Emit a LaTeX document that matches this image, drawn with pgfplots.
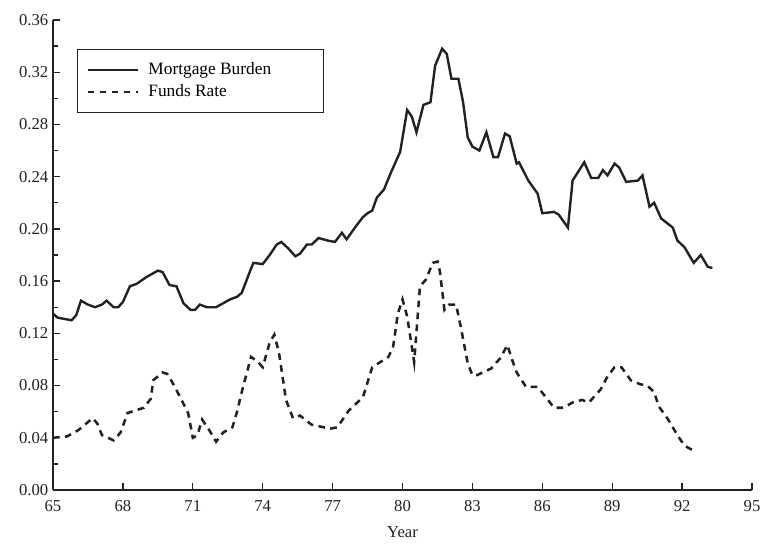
\documentclass[border=0pt]{standalone}
\usepackage{pgfplots}
\pgfplotsset{compat=1.18}
\usepackage{fontspec}
\setmainfont{Liberation Serif}
\definecolor{ink}{HTML}{222222}
\begin{document}
\begin{tikzpicture}
\begin{axis}[
  name=ax,
  scale only axis,
  width=524.25pt, height=352.5pt,
  xmin=65, xmax=95, ymin=0, ymax=0.36,
  axis x line*=bottom, axis y line*=left,
  axis line style={-, line width=1.6pt, color=ink},
  xtick={65,68,...,95},
  ytick={0,0.04,...,0.37},
  minor y tick num=1,
  tick align=inside,
  major tick length=5pt, minor tick length=4pt,
  tick style={line width=1pt, color=ink},
  every tick label/.append style={font=\fontsize{12.5}{14}\selectfont, color=ink},
  /pgf/number format/assume math mode=true,
  y tick label style={/pgf/number format/.cd, fixed, fixed zerofill, precision=2},
  x tick label style={yshift=-4.5pt, /pgf/number format/.cd, fixed, precision=0},
  xlabel={Year},
  xlabel style={font=\fontsize{12.5}{14}\selectfont, color=ink, yshift=-4pt},
  legend style={at={(0.034,0.938)}, anchor=north west, draw=ink, line width=0.7pt,
    font=\fontsize{13}{15}\selectfont, inner xsep=7pt, inner ysep=8pt, row sep=2pt,
    /tikz/every odd column/.append style={column sep=5pt}},
  legend cell align=left,
  legend image code/.code={\draw[#1] (0pt,0pt) -- (37.5pt,0pt);},
]
\addplot[ink, line width=1.8pt] coordinates {
(65.0,0.135)(65.2,0.132)(65.5,0.131)(65.8,0.130)(66.0,0.134)(66.2,0.145)(66.5,0.142)
(66.8,0.140)(67.1,0.142)(67.3,0.145)(67.6,0.140)(67.8,0.140)(68.0,0.144)(68.3,0.156)
(68.6,0.158)(69.0,0.163)(69.3,0.166)(69.5,0.168)(69.7,0.167)(70.0,0.157)(70.3,0.156)
(70.6,0.143)(70.9,0.138)(71.1,0.138)(71.3,0.142)(71.6,0.140)(72.0,0.140)(72.3,0.143)
(72.6,0.146)(72.9,0.148)(73.1,0.151)(73.4,0.165)(73.6,0.174)(74.0,0.173)(74.3,0.180)
(74.6,0.188)(74.8,0.190)(75.1,0.185)(75.4,0.179)(75.6,0.181)(75.9,0.188)(76.1,0.188)
(76.4,0.193)(76.8,0.191)(77.1,0.190)(77.4,0.197)(77.6,0.192)(78.0,0.202)(78.3,0.209)
(78.5,0.212)(78.7,0.214)(78.9,0.224)(79.2,0.230)(79.5,0.243)(79.9,0.259)(80.2,0.291)
(80.4,0.286)(80.6,0.274)(80.9,0.295)(81.2,0.297)(81.4,0.325)(81.7,0.338)(81.9,0.334)
(82.1,0.315)(82.4,0.315)(82.6,0.297)(82.8,0.270)(83.0,0.263)(83.3,0.260)(83.6,0.274)
(83.9,0.255)(84.1,0.255)(84.4,0.273)(84.6,0.271)(84.9,0.250)(85.0,0.251)(85.4,0.237)
(85.8,0.227)(86.0,0.212)(86.5,0.213)(86.7,0.211)(87.1,0.201)(87.3,0.237)(87.8,0.251)
(88.1,0.239)(88.4,0.239)(88.6,0.245)(88.8,0.241)(89.1,0.250)(89.3,0.247)(89.6,0.236)
(90.1,0.237)(90.3,0.241)(90.6,0.217)(90.8,0.220)(91.1,0.208)(91.6,0.201)(91.8,0.191)
(92.1,0.186)(92.5,0.174)(92.8,0.180)(93.1,0.171)(93.3,0.170)
};
\addlegendentry{\makebox[122pt][l]{Mortgage Burden}}
\addplot[ink, line width=1.9pt, dash pattern=on 5pt off 4pt] coordinates {
(65.0,0.040)(65.6,0.041)(66.1,0.046)(66.7,0.055)(66.9,0.051)(67.1,0.042)(67.6,0.038)
(67.9,0.044)(68.2,0.059)(68.9,0.063)(69.2,0.070)(69.3,0.084)(69.7,0.090)(69.9,0.089)
(70.2,0.080)(70.8,0.059)(71.0,0.040)(71.2,0.042)(71.4,0.054)(71.7,0.046)(72.0,0.037)
(72.3,0.044)(72.7,0.048)(72.9,0.060)(73.1,0.075)(73.5,0.102)(73.8,0.098)(74.0,0.094)
(74.3,0.113)(74.5,0.119)(74.7,0.105)(75.0,0.069)(75.3,0.055)(75.6,0.057)(76.1,0.050)
(76.9,0.047)(77.2,0.048)(77.7,0.061)(78.3,0.071)(78.7,0.094)(79.4,0.102)(79.6,0.110)
(79.8,0.135)(80.0,0.146)(80.2,0.133)(80.5,0.098)(80.75,0.156)(81.0,0.161)(81.3,0.174)
(81.5,0.175)(81.6,0.168)(81.8,0.138)(82.0,0.142)(82.3,0.142)(82.5,0.125)(82.8,0.097)
(83.0,0.088)(83.2,0.088)(83.8,0.093)(84.2,0.101)(84.5,0.111)(84.7,0.100)(84.9,0.090)
(85.3,0.079)(85.8,0.079)(86.2,0.070)(86.5,0.063)(86.9,0.063)(87.3,0.067)(87.7,0.069)
(88.0,0.067)(88.5,0.077)(88.8,0.087)(89.1,0.094)(89.4,0.094)(89.8,0.084)(90.2,0.081)
(90.5,0.080)(90.8,0.075)(91.0,0.064)(91.4,0.054)(91.8,0.042)(92.1,0.034)(92.6,0.029)
};
\addlegendentry{Funds Rate}
\end{axis}
\pgfresetboundingbox
\path[use as bounding box] ([xshift=-39.75pt,yshift=-40.5pt]ax.south west) rectangle ([xshift=6.75pt,yshift=15pt]ax.north east);
\end{tikzpicture}
\end{document}
